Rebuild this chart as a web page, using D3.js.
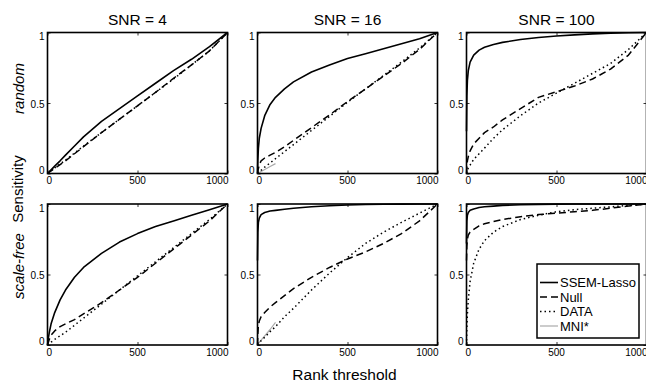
<!DOCTYPE html>
<html>
<head>
<meta charset="utf-8">
<script src="https://cdn.jsdelivr.net/npm/d3@7"></script>
<style>
body { margin:0; background:#fff; }
text { font-family: "Liberation Sans", Arial, Helvetica, sans-serif; fill:#000; }
</style>
</head>
<body>
<div id="fig"></div>
<script>
var width = 646,
height = 385,
panW = 180,
panH = 141,
colX = [47.5, 257.5, 466.5],
rowY = [32.5, 204];

var snrLabels = ["SNR = 4", "SNR = 16", "SNR = 100"];
var rowLabels = ["random", "scale-free"];
var xTicks = [0, 500, 1000];
var yTicks = [0, 0.5, 1];
var seriesNames = ["SSEM-Lasso", "Null", "DATA", "MNI*"];

// rank thresholds where the curves were read
var ranks = [0, 2, 5, 10, 20, 40, 70, 100, 150, 200, 300, 400, 500, 600, 700, 800, 900, 1000];

// panel order: random 4, random 16, random 100, scale-free 4, scale-free 16, scale-free 100
var ssem = [
	[0, 0.003, 0.006, 0.013, 0.026, 0.052, 0.09, 0.13, 0.195, 0.26, 0.37, 0.46, 0.55, 0.64, 0.73, 0.81, 0.9, 1],
	[0, 0.1, 0.18, 0.25, 0.32, 0.41, 0.49, 0.54, 0.6, 0.65, 0.72, 0.77, 0.815, 0.85, 0.885, 0.92, 0.955, 1],
	[0.3, 0.55, 0.66, 0.73, 0.79, 0.84, 0.875, 0.895, 0.915, 0.93, 0.95, 0.965, 0.975, 0.983, 0.99, 0.995, 0.998, 1],
	[0, 0.02, 0.05, 0.09, 0.15, 0.23, 0.32, 0.39, 0.48, 0.55, 0.65, 0.73, 0.79, 0.84, 0.88, 0.92, 0.96, 1],
	[0.6, 0.8, 0.87, 0.9, 0.925, 0.94, 0.95, 0.955, 0.963, 0.97, 0.98, 0.988, 0.993, 0.996, 0.998, 0.999, 1, 1],
	[0.72, 0.88, 0.92, 0.94, 0.955, 0.965, 0.975, 0.98, 0.985, 0.99, 0.995, 0.997, 0.999, 1, 1, 1, 1, 1]
];
var nullModel = [
	[0, 0.002, 0.005, 0.009, 0.018, 0.036, 0.063, 0.09, 0.14, 0.19, 0.29, 0.385, 0.48, 0.575, 0.675, 0.77, 0.87, 1],
	[0, 0.02, 0.035, 0.06, 0.09, 0.11, 0.13, 0.15, 0.19, 0.235, 0.325, 0.415, 0.51, 0.6, 0.69, 0.78, 0.88, 1],
	[0, 0.05, 0.09, 0.12, 0.16, 0.21, 0.25, 0.29, 0.33, 0.38, 0.46, 0.54, 0.58, 0.62, 0.67, 0.74, 0.84, 1],
	[0, 0.01, 0.02, 0.04, 0.07, 0.1, 0.13, 0.15, 0.18, 0.22, 0.3, 0.39, 0.48, 0.58, 0.68, 0.78, 0.88, 1],
	[0, 0.08, 0.14, 0.17, 0.2, 0.23, 0.27, 0.3, 0.35, 0.4, 0.48, 0.55, 0.61, 0.66, 0.72, 0.79, 0.88, 1],
	[0.6, 0.7, 0.75, 0.78, 0.8, 0.82, 0.845, 0.86, 0.875, 0.89, 0.91, 0.925, 0.935, 0.945, 0.955, 0.97, 0.985, 1]
];
var dataModel = [
	[0, 0.002, 0.005, 0.01, 0.02, 0.04, 0.068, 0.095, 0.145, 0.195, 0.29, 0.385, 0.48, 0.575, 0.67, 0.77, 0.87, 1],
	[0, 0.003, 0.007, 0.012, 0.023, 0.045, 0.075, 0.105, 0.155, 0.205, 0.305, 0.405, 0.505, 0.6, 0.695, 0.79, 0.89, 1],
	[0, 0.01, 0.02, 0.04, 0.06, 0.1, 0.14, 0.18, 0.25, 0.31, 0.41, 0.5, 0.57, 0.64, 0.71, 0.78, 0.88, 1],
	[0, 0.002, 0.005, 0.01, 0.02, 0.04, 0.065, 0.09, 0.14, 0.19, 0.29, 0.39, 0.49, 0.59, 0.69, 0.79, 0.89, 1],
	[0, 0.003, 0.008, 0.015, 0.03, 0.055, 0.095, 0.13, 0.2, 0.26, 0.39, 0.51, 0.62, 0.72, 0.8, 0.87, 0.935, 1],
	[0, 0.12, 0.22, 0.32, 0.45, 0.58, 0.68, 0.74, 0.8, 0.84, 0.89, 0.92, 0.945, 0.96, 0.97, 0.98, 0.99, 1]
];
// MNI* only shows near the origin in the SNR = 16 panels
var mni = [
	[],
	[0, 0.002, 0.004, 0.007, 0.014, 0.028, 0.05, 0.07],
	[],
	[],
	[0, 0.004, 0.01, 0.018, 0.035, 0.065, 0.11, 0.16],
	[]
];

var styles = [
	{ stroke:"#000", width:1.6, dash:null },
	{ stroke:"#000", width:1.5, dash:"7,4" },
	{ stroke:"#000", width:1.5, dash:"1.5,3" },
	{ stroke:"#aaa", width:1.2, dash:null }
];

var svg = d3.select("#fig").append("svg")
	.attr("width", width)
	.attr("height", height);

var x = d3.scaleLinear().domain([0, 1000]).range([0, panW]);
var y = d3.scaleLinear().domain([0, 1]).range([panH, 0]);

var line = d3.line()
	.defined(function(d){ return d[1] != null; })
	.x(function(d){ return x(d[0]); })
	.y(function(d){ return y(d[1]); });

for(var p = 0; p < 6; p++){
	var col = p % 3, row = Math.floor(p / 3);
	var g = svg.append("g").attr("transform", "translate(" + colX[col] + "," + rowY[row] + ")");

	var all = [ssem[p], nullModel[p], dataModel[p], mni[p]];
	// gray first, then dotted, dashed, solid
	[3, 2, 1, 0].forEach(function(s){
		var vals = all[s];
		if(vals.length == 0) return;
		var pts = vals.map(function(v, i){ return [ranks[i], v]; });
		g.append("path")
			.attr("d", line(pts))
			.attr("fill", "none")
			.attr("stroke", styles[s].stroke)
			.attr("stroke-width", styles[s].width)
			.attr("stroke-dasharray", styles[s].dash)
			.attr("stroke-linejoin", "round");
	});

	// inward ticks on four sides, matlab style
	var ax = d3.axisBottom(x).tickValues(xTicks).tickSize(-3).tickFormat("");
	var axT = d3.axisTop(x).tickValues(xTicks).tickSize(-3).tickFormat("");
	var ay = d3.axisLeft(y).tickValues(yTicks).tickSize(-3).tickFormat("");
	var ayR = d3.axisRight(y).tickValues(yTicks).tickSize(-3).tickFormat("");
	g.append("g").attr("transform", "translate(0," + panH + ")").call(ax);
	g.append("g").call(axT);
	g.append("g").call(ay);
	g.append("g").attr("transform", "translate(" + panW + ",0)").call(ayR);
	g.selectAll(".domain").remove();
	g.selectAll(".tick line").attr("stroke", "#000").attr("stroke-width", 0.8);

	g.append("rect")
		.attr("width", panW)
		.attr("height", panH)
		.attr("fill", "none")
		.attr("stroke", "#000")
		.attr("stroke-width", 1.6);

	g.selectAll(".xl").data(xTicks).enter().append("text")
		.attr("x", function(d, i){ return i == 0 ? x(d) - 1 : (i == 2 ? x(d) + 1 : x(d)); })
		.attr("y", panH + 10.5)
		.attr("text-anchor", function(d, i){ return i == 0 ? "start" : (i == 2 ? "end" : "middle"); })
		.style("font-size", "10px")
		.text(function(d){ return d; });

	g.selectAll(".yl").data(yTicks).enter().append("text")
		.attr("x", -3)
		.attr("y", function(d){ return d == 1 ? y(d) + 7.5 : (d == 0 ? y(d) : y(d) + 4.5); })
		.attr("text-anchor", "end")
		.style("font-size", "10px")
		.text(function(d){ return d; });

	if(row == 0){
		g.append("text")
			.attr("x", panW / 2)
			.attr("y", -8)
			.attr("text-anchor", "middle")
			.style("font-size", "15.5px")
			.text(snrLabels[col]);
	}
	if(col == 0){
		g.append("text")
			.attr("transform", "translate(-24," + (row == 0 ? 56 : 62) + ") rotate(-90)")
			.attr("text-anchor", "middle")
			.style("font-size", "15px")
			.style("font-style", "italic")
			.text(rowLabels[row]);
	}

	if(p == 5){
		var lg = g.append("g").attr("transform", "translate(70.5,60)");
		lg.append("rect")
			.attr("width", 102)
			.attr("height", 74)
			.attr("fill", "#fff")
			.attr("stroke", "#000")
			.attr("stroke-width", 1.5);
		seriesNames.forEach(function(n, i){
			var yy = 18.5 + i * 14.5;
			lg.append("line")
				.attr("x1", 3).attr("x2", 21)
				.attr("y1", yy).attr("y2", yy)
				.attr("stroke", styles[i].stroke)
				.attr("stroke-width", styles[i].width)
				.attr("stroke-dasharray", styles[i].dash);
			lg.append("text")
				.attr("x", 23)
				.attr("y", yy + 4.5)
				.style("font-size", "13px")
				.text(n);
		});
	}
}

svg.append("text")
	.attr("transform", "translate(23,189) rotate(-90)")
	.attr("text-anchor", "middle")
	.style("font-size", "15px")
	.text("Sensitivity");

svg.append("text")
	.attr("x", colX[1] + panW / 2 - 3)
	.attr("y", 380)
	.attr("text-anchor", "middle")
	.style("font-size", "15.5px")
	.text("Rank threshold");
</script>
</body>
</html>
